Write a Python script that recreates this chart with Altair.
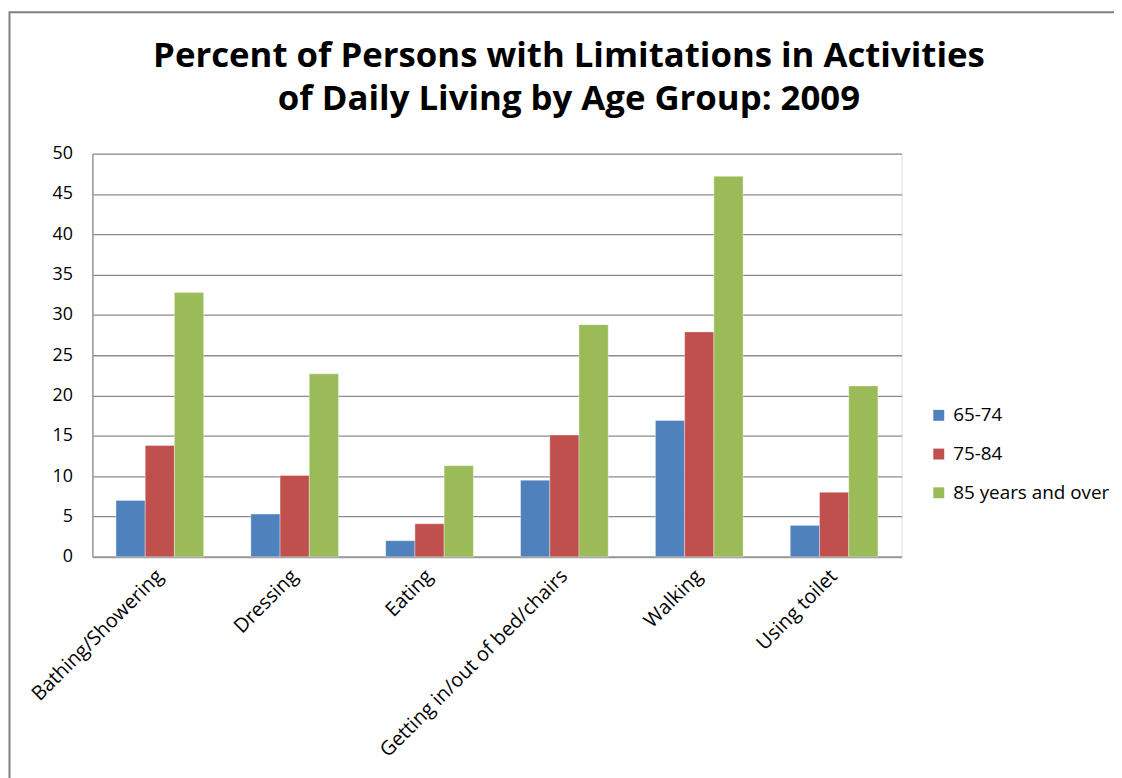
import altair as alt
import pandas as pd

title_lines = ["Percent of Persons with Limitations in Activities", "of Daily Living by Age Group: 2009"]
categories = ["Bathing/Showering", "Dressing", "Eating", "Getting in/out of bed/chairs", "Walking", "Using toilet"]
groups = ["65-74", "75-84", "85 years and over"]
v_65_74 = [7.0, 5.3, 2.0, 9.5, 16.9, 3.9]
v_75_84 = [13.8, 10.1, 4.1, 15.1, 27.9, 8.0]
v_85_over = [32.8, 22.7, 11.3, 28.8, 47.2, 21.2]
y_ticks = [0, 5, 10, 15, 20, 25, 30, 35, 40, 45, 50]
colors = ["#4F81BD", "#C0504D", "#9BBB59"]

rows = []
for g, vals in zip(groups, [v_65_74, v_75_84, v_85_over]):
    for c, v in zip(categories, vals):
        rows.append({"Activity": c, "Age": g, "Percent": v})
df = pd.DataFrame(rows)

FONT = "Open Sans"

bars = alt.Chart(df).mark_bar(stroke="white", strokeWidth=0.6, strokeOpacity=0.6).encode(
    x=alt.X("Activity:N", sort=categories, title=None,
            scale=alt.Scale(paddingInner=0.35, paddingOuter=0.175),
            axis=alt.Axis(labelAngle=-45, labelAlign="right", labelBaseline="middle",
                          labelPadding=16, labelFontSize=20, labelFont=FONT, labelColor="#000000",
                          ticks=False, domainColor="#9a9a9a", domainWidth=2, labelLimit=400)),
    xOffset=alt.XOffset("Age:N", sort=groups),
    y=alt.Y("Percent:Q", title=None, scale=alt.Scale(domain=[0, 50], nice=False),
            axis=alt.Axis(values=y_ticks, labelFontSize=18, labelFont=FONT, labelColor="#000000",
                          labelPadding=20, ticks=False, domainColor="#9a9a9a", domainWidth=1.5,
                          gridColor="#8c8c8c", gridWidth=1.3)),
    color=alt.Color("Age:N", sort=groups, scale=alt.Scale(domain=groups, range=colors),
                    legend=alt.Legend(title=None, orient="none", legendX=843, legendY=254,
                                      symbolType="square", symbolSize=121, symbolStrokeWidth=0,
                                      labelFontSize=19, labelFont=FONT, labelColor="#000000",
                                      rowPadding=19, labelOffset=5)),
)

frame = alt.Chart(alt.Data(values=[{}])).mark_rect(fill=None, stroke="#7f7f7f", strokeWidth=2).encode(
    x=alt.value(-83.5), x2=alt.value(1040), y=alt.value(-142.5), y2=alt.value(640)
)

title = alt.Chart(alt.Data(values=[{}])).mark_text(
    font=FONT, fontSize=35, fontWeight="bold", color="#000000", align="center",
    baseline="alphabetic", lineHeight=43
).encode(text=alt.value(title_lines), x=alt.value(480), y=alt.value(-87))

chart = alt.layer(frame, bars, title).properties(
    width=815, height=406,
    autosize=alt.AutoSizeParams(type="none"),
    padding={"left": 85, "top": 144, "right": 214, "bottom": 220},
).configure_view(stroke=None).configure(background="white")

chart.save("out.html", embed_options={"renderer": "svg", "actions": False})
